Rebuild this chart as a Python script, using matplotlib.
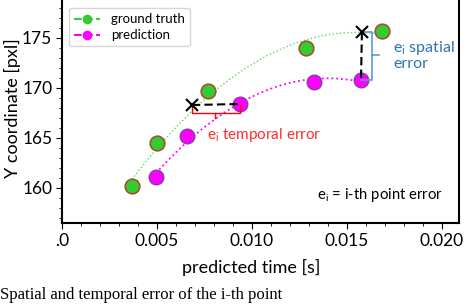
import numpy as np
import matplotlib
matplotlib.use("Agg")
import matplotlib.pyplot as plt
from matplotlib.lines import Line2D
from matplotlib.ticker import MultipleLocator, FixedLocator

plt.rcParams['font.family'] = ['Lato', 'DejaVu Sans']

# ground truth and predicted trajectory points (time [s], y [pxl])
gt_t = [0.00368, 0.0050, 0.00768, 0.01284, 0.01684]
gt_y = [160.2, 164.5, 169.7, 174.0, 175.7]
pred_t = [0.00495, 0.00658, 0.00937, 0.01326, 0.01574]
pred_y = [161.1, 165.2, 168.4, 170.6, 170.8]

# i-th point projected on the ground-truth curve
cross_t = [0.00684, 0.01579]
cross_y = [168.3, 175.6]

xtick_vals = [0.0, 0.005, 0.010, 0.015, 0.020]
xtick_labels = ['.0', '0.005', '0.010', '0.015', '0.020']
ytick_vals = [160, 165, 170, 175]

green = '#33cc33'
brown = '#a0522d'
magenta = '#ff00ff'
purple = '#8040a0'
red = '#ff2a2a'
blue = '#2e75b6'

fig = plt.figure(figsize=(4.72, 3.04), dpi=100)
ax = fig.add_axes([62 / 472, 81 / 304, 397 / 472, 225 / 304])

# fitted curves through the points
gt_fit = np.polyfit(gt_t, gt_y, 2)
tt = np.linspace(gt_t[0], gt_t[-1], 200)
ax.plot(tt, np.polyval(gt_fit, tt), ':', color='#55dd55', lw=1.0)
pr_fit = np.polyfit(pred_t, pred_y, 2)
tt2 = np.linspace(pred_t[0], pred_t[-1], 200)
ax.plot(tt2, np.polyval(pr_fit, tt2), ':', color=magenta, lw=1.3)

ax.plot(gt_t, gt_y, 'o', ms=10.5, mfc=green, mec=brown, mew=1.2, zorder=3)
ax.plot(pred_t, pred_y, 'o', ms=10.5, mfc=magenta, mec=purple, mew=1.0, zorder=3)

# temporal error
ax.plot([cross_t[0], pred_t[2]], [cross_y[0], pred_y[2]], '--', color='black',
        lw=1.5, dashes=(4, 2), zorder=4)
ax.plot([cross_t[0], cross_t[0], pred_t[2], pred_t[2]],
        [cross_y[0], 167.5, 167.5, cross_y[0]], color='red', lw=1.0, zorder=4)
ax.plot([0.00805, 0.00805], [167.5, 167.0], color='red', lw=1.0)
ax.text(0.00765, 165.3, r'e$_\mathregular{i}$ temporal error', color=red,
        fontsize=11, va='center')

# spatial error
ax.plot([cross_t[1], pred_t[4]], [cross_y[1], pred_y[4]], '--', color='black',
        lw=1.5, dashes=(4, 2), zorder=4)
ax.plot([cross_t[1], 0.01632, 0.01632, pred_t[4]],
        [cross_y[1], cross_y[1], pred_y[4], pred_y[4]], color='#5b9bd5', lw=1.2, zorder=4)
ax.plot([0.01632, 0.0167], [173.3, 173.3], color='#5b9bd5', lw=1.2)
ax.text(0.01742, 173.3, 'e$_\\mathregular{i}$ spatial\nerror', color=blue,
        fontsize=11.5, va='center', linespacing=1.05)

ax.plot(cross_t, cross_y, 'x', color='black', ms=9, mew=1.5, zorder=5)

ax.text(0.01343, 159.3, r'e$_\mathregular{i}$ = i-th point error', fontsize=10.7,
        va='center')

ax.set_xlim(0, 0.0209)
ax.set_ylim(156.5, 179.0)
ax.xaxis.set_major_locator(FixedLocator(xtick_vals))
ax.set_xticklabels(xtick_labels)
ax.xaxis.set_minor_locator(MultipleLocator(0.001))
ax.set_yticks(ytick_vals)
ax.yaxis.set_minor_locator(MultipleLocator(1))
ax.tick_params(labelsize=12.5)
ax.tick_params(which='major', length=4, pad=3)
ax.tick_params(which='minor', length=2)
for s in ax.spines.values():
    s.set_linewidth(1.5)

ax.set_xlabel('predicted time [s]', fontsize=13)
ax.xaxis.set_label_coords((251 - 62) / 397, -0.16)
ax.set_ylabel('Y coordinate [pxl]', fontsize=13)
ax.yaxis.set_label_coords(-0.104, 0.51)

handles = [Line2D([], [], ls='--', color=green, marker='o', ms=6),
           Line2D([], [], ls='--', color=magenta, marker='o', ms=6)]
ax.legend(handles, ['ground truth', 'prediction'], loc='upper left',
          fontsize=9.5, handlelength=2.0, borderaxespad=0.5, labelspacing=0.3,
          bbox_to_anchor=(0.0, 0.985))

# caption at the bottom of the crop
fig.text(0.0, 0.003, 'Spatial and temporal error of the i-th point',
         family='Liberation Serif', fontsize=12, va='bottom')

fig.savefig('out.png', dpi=100)
